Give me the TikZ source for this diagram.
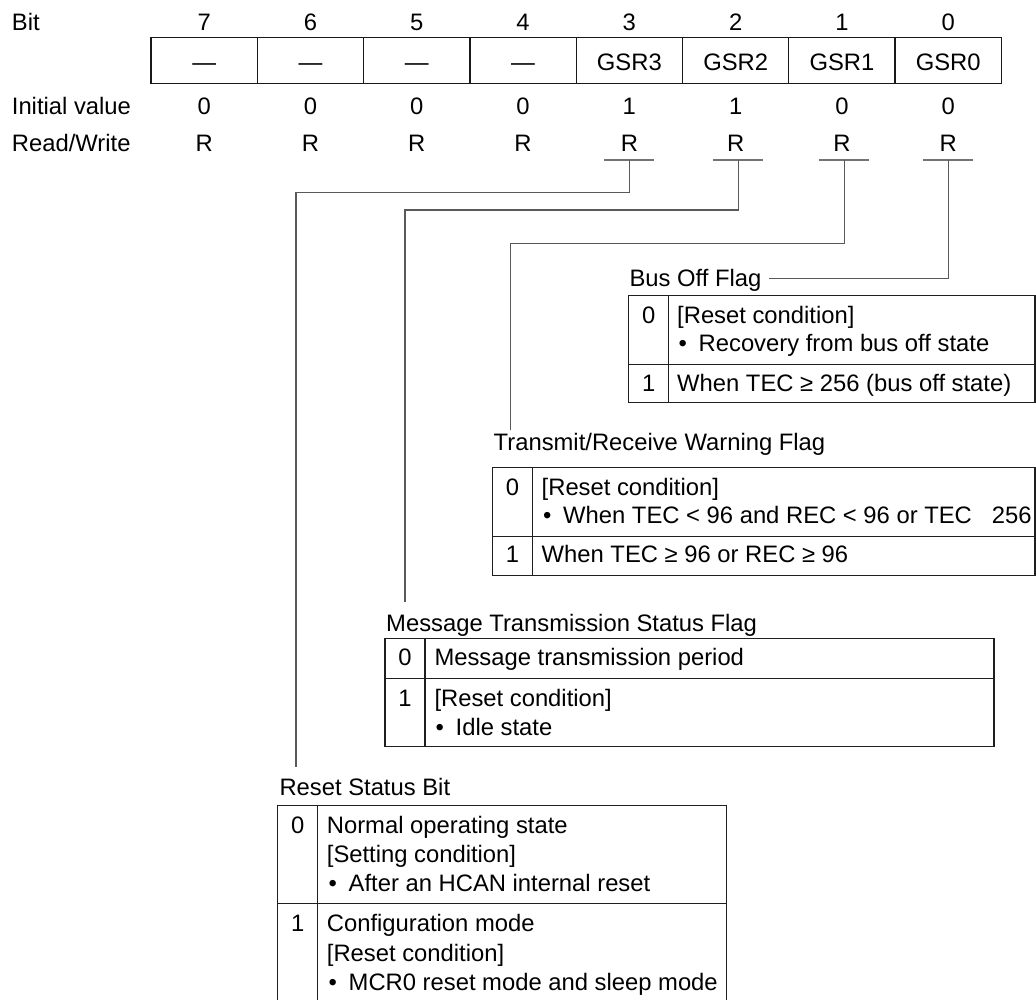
\documentclass[tikz,border=0pt]{standalone}
\usepackage{fontspec}
\setmainfont{Liberation Sans}
\newcommand\dfont{\fontsize{23.8}{28}\selectfont}
\newcommand\bul{\makebox[20pt][l]{•}}
\begin{document}
\begin{tikzpicture}[x=1pt,y=-1pt,
  lbl/.style={inner sep=0pt,anchor=base west,font=\dfont},
  ctr/.style={inner sep=0pt,anchor=base,font=\dfont},
  cellbox/.style={draw=black!90,line width=1.3pt,minimum width=106.3pt,minimum height=45.6pt,inner sep=0pt},
  conn/.style={draw=black!65,line width=1.1pt},
  tickline/.style={draw=black!55,line width=1.4pt},
  tbl/.style={draw=black!88,line width=1.3pt}]
\useasboundingbox (0,0) rectangle (1036,999);

% row labels
\node[lbl] (lbit) at (11.7,30) {Bit};
\node[lbl] (linit) at (11.7,114.5) {Initial value};
\node[lbl] (lrw) at (11.7,151.5) {Read/Write};

% register
\foreach \b/\t/\v [count=\i from 0] in {7/—/0,6/—/0,5/—/0,4/—/0,3/GSR3/1,2/GSR2/1,1/GSR1/0,0/GSR0/0}{
  \pgfmathsetmacro\xc{151+106.3*(\i+0.5)}
  \node[ctr] (b\b) at (\xc,30) {\b};
  \node[cellbox] (c\b) at (\xc,60.5) {};
  \node[ctr] (ct\b) at (\xc,70) {\t};
  \node[ctr] (iv\b) at (\xc,114.5) {\v};
  \node[ctr] (r\b) at (\xc,151.5) {R};
}

% ticks under R for bits 3..0
\coordinate (t3) at (629.3,160);
\coordinate (t2) at (738.3,160);
\coordinate (t1) at (844.3,160);
\coordinate (t0) at (948.3,160);
\foreach \b in {3,2,1,0}{
  \draw[tickline] ([xshift=-25pt]t\b) -- ([xshift=25pt]t\b);
}

% bend and end points of connectors
\coordinate (k3) at (296,192.3);
\coordinate (e3) at (296,766.7);
\coordinate (k2) at (405,210);
\coordinate (e2) at (405,601.7);
\coordinate (k1) at (510.7,243.3);
\coordinate (e1) at (510.7,430);
\coordinate (e0) at (768.5,278.3);

\draw[conn] (t3) |- (k3) -- (e3);
\draw[conn] (t2) |- (k2) -- (e2);
\draw[conn] (t1) |- (k1) -- (e1);
\draw[conn] (t0) |- (e0);

% ---------- Bus Off Flag ----------
\node[lbl] (boh) at (629.3,286.7) {Bus Off Flag};
\draw[tbl] (628.7,295.7) rectangle (1035,402.7);
\draw[tbl] (668.7,295.7) -- (668.7,402.7);
\draw[tbl] (628.7,364.3) -- (1035,364.3);
\node[ctr] (bo0) at (648.7,323.5) {0};
\node[lbl] (bo0a) at (677,323.5) {[Reset condition]};
\node[lbl] (bo0b) at (678.5,351.5) {\bul Recovery from bus off state};
\node[ctr] (bo1) at (648.7,391.7) {1};
\node[lbl] (bo1a) at (677,391.7) {When TEC ≥ 256 (bus off state)};

% ---------- Transmit/Receive Warning Flag ----------
\node[lbl] (wrh) at (493.5,450) {Transmit/Receive Warning Flag};
\draw[tbl] (492.5,467.7) rectangle (1035,575.3);
\draw[tbl] (532.5,467.7) -- (532.5,575.3);
\draw[tbl] (492.5,536.7) -- (1035,536.7);
\node[ctr] (wr0) at (512.5,495) {0};
\node[lbl] (wr0a) at (541.5,495) {[Reset condition]};
\node[lbl] (wr0b) at (543,523.3) {\bul When TEC < 96 and REC < 96 or TEC\hspace{20pt}256};
\node[ctr] (wr1) at (512.5,562.7) {1};
\node[lbl] (wr1a) at (541.5,562.7) {When TEC ≥ 96 or REC ≥ 96};

% ---------- Message Transmission Status Flag ----------
\node[lbl] (msh) at (386,631.7) {Message Transmission Status Flag};
\draw[tbl] (385,638.3) rectangle (994,746.7);
\draw[tbl] (425,638.3) -- (425,746.7);
\draw[tbl] (385,678.3) -- (994,678.3);
\node[ctr] (ms0) at (405,665) {0};
\node[lbl] (ms0a) at (434.3,665) {Message transmission period};
\node[ctr] (ms1) at (405,706.7) {1};
\node[lbl] (ms1a) at (434.3,706.7) {[Reset condition]};
\node[lbl] (ms1b) at (435.5,735) {\bul Idle state};

% ---------- Reset Status Bit ----------
\node[lbl] (rsh) at (279.3,795) {Reset Status Bit};
\draw[tbl] (277.7,999.5) -- (277.7,805.7) -- (726.7,805.7) -- (726.7,999.5);
\draw[tbl] (317.7,805.7) -- (317.7,999.5);
\draw[tbl] (277.7,903.3) -- (726.7,903.3);
\node[ctr] (rs0) at (297.7,833.3) {0};
\node[lbl] (rs0a) at (326.7,833.3) {Normal operating state};
\node[lbl] (rs0b) at (326.7,862.5) {[Setting condition]};
\node[lbl] (rs0c) at (328.5,891.7) {\bul After an HCAN internal reset};
\node[ctr] (rs1) at (297.7,931.7) {1};
\node[lbl] (rs1a) at (326.7,931.7) {Configuration mode};
\node[lbl] (rs1b) at (326.7,961) {[Reset condition]};
\node[lbl] (rs1c) at (328.5,990) {\bul MCR0 reset mode and sleep mode};
\end{tikzpicture}
\end{document}
